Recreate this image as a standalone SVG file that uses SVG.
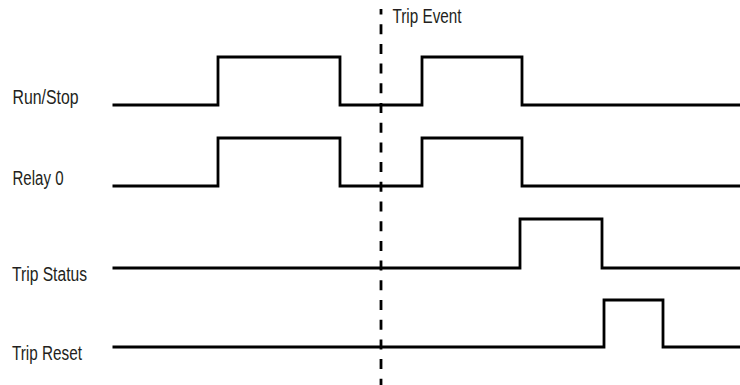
<svg xmlns="http://www.w3.org/2000/svg" width="740" height="385" viewBox="0 0 740 385">
<style>
.lbl{font-family:"Liberation Sans",Arial,sans-serif;font-size:20px;fill:#231f20}
.wave{fill:none;stroke:#000;stroke-width:2.8;stroke-linejoin:miter}
.evt{stroke:#000;stroke-width:2.8;stroke-dasharray:10 9.7;stroke-dashoffset:4.5}
</style>
<rect width="740" height="385" fill="#fff"/>
<g id="connectors">
<line class="evt" x1="381" y1="9" x2="381" y2="385"/>
</g>
<g id="trip-event"><text class="lbl" x="392.5" y="22.5" textLength="69" lengthAdjust="spacingAndGlyphs">Trip Event</text></g>
<g id="run-stop">
<text class="lbl" x="12.5" y="104" textLength="66" lengthAdjust="spacingAndGlyphs">Run/Stop</text>
<polyline class="wave" points="112.5,105 218,105 218,57 340,57 340,105 422,105 422,57 522,57 522,105 740,105"/>
</g>
<g id="relay-0">
<text class="lbl" x="12.5" y="185" textLength="51" lengthAdjust="spacingAndGlyphs">Relay 0</text>
<polyline class="wave" points="112.5,186 218,186 218,138 340,138 340,186 422,186 422,138 522,138 522,186 740,186"/>
</g>
<g id="trip-status">
<text class="lbl" x="12" y="281" textLength="75" lengthAdjust="spacingAndGlyphs">Trip Status</text>
<polyline class="wave" points="112.5,268 520,268 520,219 602,219 602,268 740,268"/>
</g>
<g id="trip-reset">
<text class="lbl" x="12" y="360" textLength="70" lengthAdjust="spacingAndGlyphs">Trip Reset</text>
<polyline class="wave" points="112.5,347 604,347 604,300 663,300 663,347 740,347"/>
</g>
</svg>
